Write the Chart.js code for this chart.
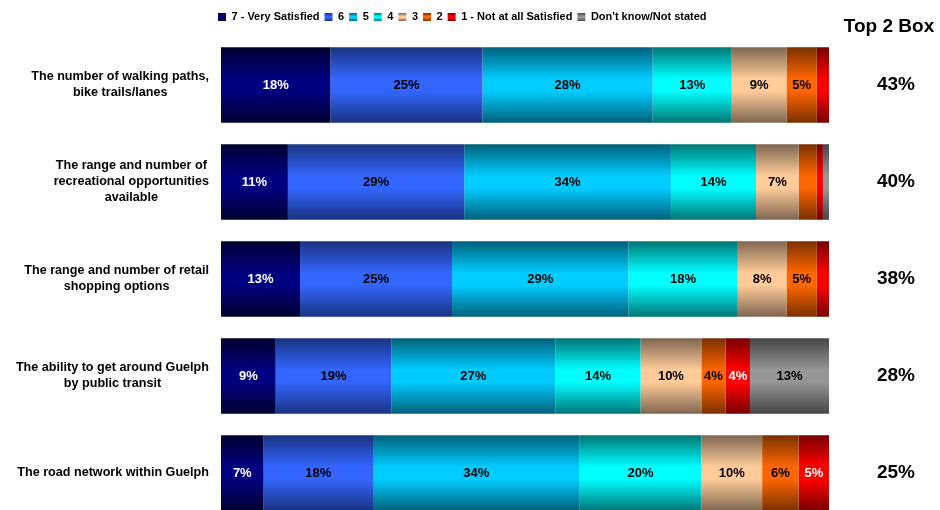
<!DOCTYPE html>
<html>
<head>
<meta charset="utf-8">
<title>Satisfaction with getting around Guelph</title>
<script src="https://cdn.jsdelivr.net/npm/chart.js@4.4.1/dist/chart.umd.min.js"></script>
<style>
  html, body { margin: 0; padding: 0; background: #fff; overflow: hidden; }
  canvas { display: block; }
</style>
</head>
<body>
<canvas id="satChart" width="940" height="530"></canvas>
<script>
// Rating questions, one bar each
const categories = [
    ['The number of walking paths,', 'bike trails/lanes'],
    ['The range and number of', 'recreational opportunities', 'available'],
    ['The range and number of retail', 'shopping options'],
    ['The ability to get around Guelph', 'by public transit'],
    ['The road network within Guelph']
];

// Percent of respondents per rating
const rating7 = [18, 11, 13, 9, 7];
const rating6 = [25, 29, 25, 19, 18];
const rating5 = [28, 34, 29, 27, 34];
const rating4 = [13, 14, 18, 14, 20];
const rating3 = [9, 7, 8, 10, 10];
const rating2 = [5, 3, 5, 4, 6];
const rating1 = [2, 1, 2, 4, 5];
const dontKnow = [0, 1, 0, 13, 0];

const seriesNames = ['7 - Very Satisfied', '6', '5', '4', '3', '2', '1 - Not at all Satisfied', "Don't know/Not stated"];
const seriesData = [rating7, rating6, rating5, rating4, rating3, rating2, rating1, dontKnow];

// middle colour, edge colour, label colour
const seriesColors = [
    ['#000080', '#000030', '#fff'],
    ['#3366ff', '#1a3380', '#000'],
    ['#00ccff', '#00607a', '#000'],
    ['#00ffff', '#007575', '#000'],
    ['#ffcc99', '#7f6650', '#000'],
    ['#ff6600', '#7a3000', '#000'],
    ['#ff0000', '#780000', '#fff'],
    ['#969696', '#464646', '#000']
];

const FONT = '"Liberation Sans", Arial, sans-serif';
const BAR_PCT = 0.78;

function shade(ctx, top, bottom, s) {
    const g = ctx.createLinearGradient(0, top, 0, bottom);
    g.addColorStop(0, seriesColors[s][1]);
    g.addColorStop(0.42, seriesColors[s][0]);
    g.addColorStop(0.58, seriesColors[s][0]);
    g.addColorStop(1, seriesColors[s][1]);
    return g;
}

function barFill(context) {
    const chart = context.chart;
    const area = chart.chartArea;
    const s = context.datasetIndex;
    if (!area || context.dataIndex === undefined) return seriesColors[s][0];
    const yScale = chart.scales.y;
    const mid = yScale.getPixelForValue(context.dataIndex);
    const half = (area.bottom - area.top) / categories.length * BAR_PCT / 2;
    return shade(chart.ctx, mid - half, mid + half, s);
}

// percentages inside the segments
const segmentLabels = {
    id: 'segmentLabels',
    afterDatasetsDraw(chart) {
        const ctx = chart.ctx;
        ctx.save();
        ctx.font = 'bold 13px ' + FONT;
        ctx.textAlign = 'center';
        ctx.textBaseline = 'middle';
        chart.data.datasets.forEach((ds, s) => {
            const meta = chart.getDatasetMeta(s);
            meta.data.forEach((bar, i) => {
                const v = ds.data[i];
                if (v < 4) return;
                ctx.fillStyle = seriesColors[s][2];
                ctx.fillText(v + '%', (bar.x + bar.base) / 2, bar.y + 0.5);
            });
        });
        ctx.restore();
    }
};

// question text on the left and Top 2 Box column on the right
const sideText = {
    id: 'sideText',
    afterDraw(chart) {
        const ctx = chart.ctx;
        const yScale = chart.scales.y;
        ctx.save();
        ctx.fillStyle = '#000';
        ctx.textBaseline = 'middle';
        ctx.textAlign = 'center';

        ctx.font = 'bold 12.6px ' + FONT;
        categories.forEach((lines, i) => {
            const cy = yScale.getPixelForValue(i);
            const w = Math.max(...lines.map(l => ctx.measureText(l).width));
            const cx = 209 - w / 2;
            const lh = 16;
            lines.forEach((l, k) => {
                ctx.fillText(l, cx, cy + (k - (lines.length - 1) / 2) * lh);
            });
        });

        ctx.font = 'bold 19px ' + FONT;
        ctx.fillText('Top 2 Box', 889, 27);
        categories.forEach((lines, i) => {
            const top2 = rating7[i] + rating6[i];
            ctx.fillText(top2 + '%', 896, yScale.getPixelForValue(i));
        });
        ctx.restore();
    }
};

const ctx = document.getElementById('satChart').getContext('2d');
new Chart(ctx, {
    type: 'bar',
    data: {
        labels: categories,
        datasets: seriesData.map((d, s) => ({
            label: seriesNames[s],
            data: d,
            backgroundColor: barFill,
            borderWidth: 0,
            barPercentage: BAR_PCT,
            categoryPercentage: 1
        }))
    },
    options: {
        indexAxis: 'y',
        responsive: false,
        animation: false,
        devicePixelRatio: 1,
        layout: { padding: { top: 6.5, left: 213, right: 111, bottom: 8.5 } },
        scales: {
            x: {
                stacked: true,
                min: 0,
                max: 100,
                position: 'top',
                grid: { display: false },
                border: { display: false },
                ticks: { display: false },
                afterFit(scale) { scale.height = 4; }
            },
            y: {
                stacked: true,
                grid: { display: false },
                border: { display: false },
                ticks: { display: false },
                afterFit(scale) { scale.width = 8; }
            }
        },
        plugins: {
            legend: {
                position: 'top',
                align: 'start',
                labels: {
                    color: '#000',
                    font: { family: FONT, size: 11, weight: 'bold' },
                    boxWidth: 8,
                    boxHeight: 8,
                    padding: 5,
                    generateLabels(chart) {
                        return seriesNames.map((name, s) => ({
                            text: name,
                            fillStyle: shade(chart.ctx, 13, 21, s),
                            strokeStyle: 'rgba(0,0,0,0)',
                            lineWidth: 0,
                            datasetIndex: s,
                            hidden: false
                        }));
                    }
                }
            },
            tooltip: { enabled: false }
        }
    },
    plugins: [segmentLabels, sideText]
});
</script>
</body>
</html>
